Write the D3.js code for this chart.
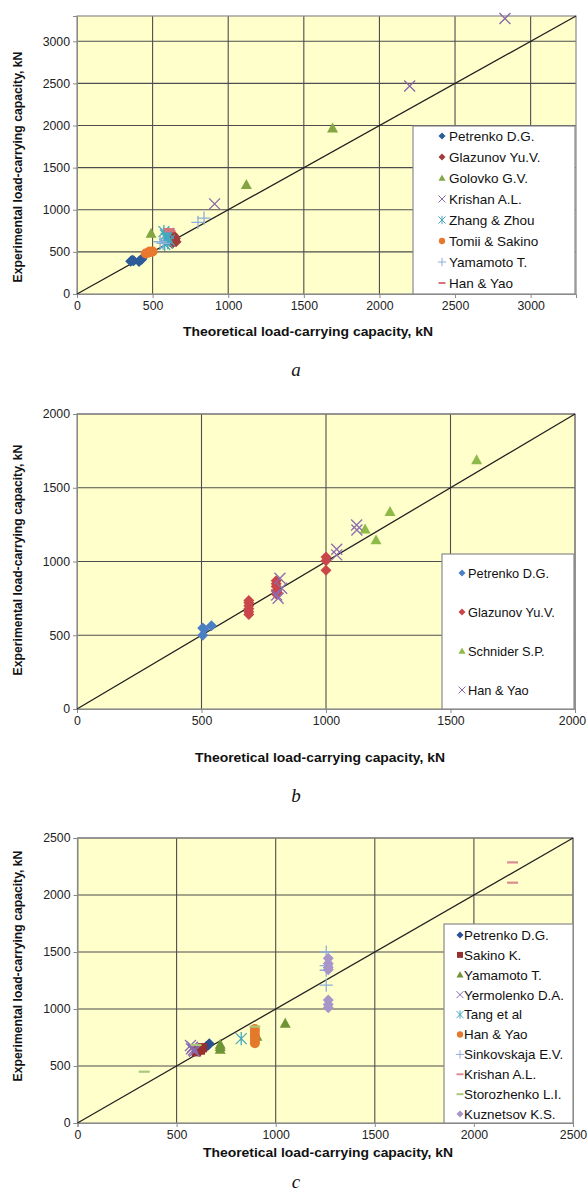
<!DOCTYPE html>
<html>
<head>
<meta charset="utf-8">
<script src="https://cdn.jsdelivr.net/npm/d3@7"></script>
<style>
body{margin:0;background:#fff}
svg{display:block;font-family:"Liberation Sans",Arial,sans-serif}
</style>
</head>
<body>
<svg id="chart" width="587" height="1191"></svg>
<script>
// ---- panel a : [theoretical, experimental] kN
var aPetrenko = [[355,390],[375,395],[410,385],[420,405],[430,415],[365,400]]
var aGlazunov = [[630,600],[645,630],[650,660],[640,690],[630,710],[655,620],[645,650]]
var aGolovko = [[490,720],[1120,1300],[1690,1970]]
var aKrishan = [[910,1070],[2200,2470],[2830,3270]]
var aZhang = [[575,740],[585,700],[590,660],[600,610],[580,590],[605,720],[595,680],[610,640]]
var aTomii = [[455,480],[470,490],[490,500],[480,505],[500,505]]
var aYamamoto = [[550,620],[800,850],[840,900],[570,600]]
var aHanYao = [[610,770],[615,745]]

// ---- panel b
var bPetrenko = [[505,550],[505,500],[540,565],[510,540]]
var bGlazunov = [[690,640],[690,660],[690,680],[690,700],[690,720],[690,735],
                 [800,780],[800,800],[800,830],[800,850],[800,870],[805,790],
                 [1000,1030],[1000,1005],[1000,940]]
var bSchnider = [[1157,1220],[1201,1146],[1257,1339],[1605,1690]]
var bHanYao = [[1123,1248],[1124,1214],[1043,1083],[1043,1045],[815,887],[822,819],[808,751],[802,773]]

// ---- panel c
var cPetrenko = [[660,685],[650,670],[665,695]]
var cSakino = [[600,625],[610,650],[620,640],[630,660],[605,640]]
var cYamamoto = [[720,645],[720,670],[720,690],[1048,875],[905,760]]
var cYermolenko = [[570,680],[575,650],[585,640],[580,665],[590,630]]
var cTang = [[826,740]]
var cHanYao = [[895,700],[895,720],[895,745],[895,770],[895,800],[895,825]]
var cSinkovskaja = [[1255,1500],[1255,1380],[1255,1340],[1255,1210]]
var cKrishan = [[2195,2286],[2195,2108]]
var cStorozhenko = [[337,450],[895,845],[598,684]]
var cKuznetsov = [[1265,1445],[1265,1400],[1265,1365],[1265,1345],[1265,1080],[1265,1040],[1265,1010]]

var ticksA = [0,500,1000,1500,2000,2500,3000]
var ticksB = [0,500,1000,1500,2000]
var ticksC = [0,500,1000,1500,2000,2500]

var xTitle = 'Theoretical load-carrying capacity, kN'
var yTitle = 'Experimental load-carrying capacity, kN'

var panels = [
  {box: [77, 576, 16, 294], max: 3300, ticks: ticksA, cap: 'a', capY: 376, titleX: 308, titleY: 336, yTitleY: 167,
   legend: {x0: 413, x1: 575, y0: 126, first: 136, step: 21, mx: 442, tx: 449, fs: 13.5},
   series: [
     {name: 'Petrenko D.G.', data: aPetrenko, shape: 'diamond', color: '#2d5a98'},
     {name: 'Glazunov Yu.V.', data: aGlazunov, shape: 'diamond', color: '#a33b3b'},
     {name: 'Golovko G.V.', data: aGolovko, shape: 'triangle', color: '#83a543'},
     {name: 'Krishan A.L.', data: aKrishan, shape: 'x', color: '#8667a8'},
     {name: 'Zhang & Zhou', data: aZhang, shape: 'asterisk', color: '#45a8c0'},
     {name: 'Tomii & Sakino', data: aTomii, shape: 'circle', color: '#e9782f'},
     {name: 'Yamamoto T.', data: aYamamoto, shape: 'plus', color: '#8eaedc'},
     {name: 'Han & Yao', data: aHanYao, shape: 'dash', color: '#d9737a'}
   ]},
  {box: [77, 575, 414, 709], max: 2000, ticks: ticksB, cap: 'b', capY: 802, titleX: 320, titleY: 762, yTitleY: 560,
   legend: {x0: 442, x1: 574, y0: 554, first: 573, step: 39, mx: 462, tx: 468, fs: 12.8},
   series: [
     {name: 'Petrenko D.G.', data: bPetrenko, shape: 'diamond', color: '#4a7fc4'},
     {name: 'Glazunov Yu.V.', data: bGlazunov, shape: 'diamond', color: '#c9464a'},
     {name: 'Schnider S.P.', data: bSchnider, shape: 'triangle', color: '#8fba4a'},
     {name: 'Han & Yao', data: bHanYao, shape: 'x', color: '#8d6cb0'}
   ]},
  {box: [77.5, 573, 838, 1123], max: 2500, ticks: ticksC, cap: 'c', capY: 1188, titleX: 328, titleY: 1157, yTitleY: 966,
   legend: {x0: 444, x1: 573, y0: 924, first: 935, step: 19.9, mx: 460, tx: 464, fs: 13.4},
   series: [
     {name: 'Petrenko D.G.', data: cPetrenko, shape: 'diamond', color: '#2a4f93'},
     {name: 'Sakino K.', data: cSakino, shape: 'square', color: '#96302e'},
     {name: 'Yamamoto T.', data: cYamamoto, shape: 'triangle', color: '#6f9436'},
     {name: 'Yermolenko D.A.', data: cYermolenko, shape: 'x', color: '#8a6bb0'},
     {name: 'Tang et al', data: cTang, shape: 'asterisk', color: '#45a8c0'},
     {name: 'Han & Yao', data: cHanYao, shape: 'circle', color: '#e5792b'},
     {name: 'Sinkovskaja E.V.', data: cSinkovskaja, shape: 'plus', color: '#8eaedc'},
     {name: 'Krishan A.L.', data: cKrishan, shape: 'dash', color: '#d98d8f'},
     {name: 'Storozhenko L.I.', data: cStorozhenko, shape: 'dash', color: '#a9c97a'},
     {name: 'Kuznetsov K.S.', data: cKuznetsov, shape: 'diamond', color: '#a895c9'}
   ]}
]

var stroked = {x: 1, asterisk: 1, plus: 1, dash: 1}

function markerPath(shape, r){
  var p = d3.path()
  if (shape == 'diamond'){ p.moveTo(0,-r); p.lineTo(r,0); p.lineTo(0,r); p.lineTo(-r,0); p.closePath() }
  else if (shape == 'square'){ p.rect(-r*0.85,-r*0.85,r*1.7,r*1.7) }
  else if (shape == 'triangle'){ p.moveTo(0,-r); p.lineTo(r,r*0.8); p.lineTo(-r,r*0.8); p.closePath() }
  else if (shape == 'circle'){ p.arc(0,0,r*0.9,0,2*Math.PI) }
  else if (shape == 'x'){ p.moveTo(-r,-r); p.lineTo(r,r); p.moveTo(-r,r); p.lineTo(r,-r) }
  else if (shape == 'asterisk'){ p.moveTo(-r,-r); p.lineTo(r,r); p.moveTo(-r,r); p.lineTo(r,-r); p.moveTo(0,-r*1.2); p.lineTo(0,r*1.2) }
  else if (shape == 'plus'){ p.moveTo(-r*1.2,0); p.lineTo(r*1.2,0); p.moveTo(0,-r*1.2); p.lineTo(0,r*1.2) }
  else if (shape == 'dash'){ p.moveTo(-r,0); p.lineTo(r,0) }
  return p.toString()
}

function styleMarker(sel, s){
  sel.attr('fill', stroked[s.shape] ? 'none' : s.color)
    .attr('stroke', stroked[s.shape] ? s.color : 'none')
    .attr('stroke-width', s.shape == 'dash' ? 2.2 : 1.3)
}

var svg = d3.select('#chart')

panels.forEach(drawPanel)

function drawPanel(p){
  var [l, r, t, b] = p.box
  var x = d3.scaleLinear().domain([0, p.max]).range([l, r])
  var y = d3.scaleLinear().domain([0, p.max]).range([b, t])
  var g = svg.append('g')

  g.append('rect').attr('x', l).attr('y', t).attr('width', r - l).attr('height', b - t)
    .attr('fill', '#ffffcc')

  // grid
  g.selectAll('line.gx').data(p.ticks.filter(d => d > 0)).enter().append('line')
    .attr('x1', d => x(d)).attr('x2', d => x(d)).attr('y1', t).attr('y2', b)
    .attr('stroke', '#4d4d4d').attr('stroke-width', 1.1)
  g.selectAll('line.gy').data(p.ticks.filter(d => d > 0)).enter().append('line')
    .attr('y1', d => y(d)).attr('y2', d => y(d)).attr('x1', l).attr('x2', r)
    .attr('stroke', '#4d4d4d').attr('stroke-width', 1.1)

  g.append('rect').attr('x', l).attr('y', t).attr('width', r - l).attr('height', b - t)
    .attr('fill', 'none').attr('stroke', '#8a8a8a').attr('stroke-width', 1.2)

  // axes
  var xAxis = d3.axisBottom(x).tickValues(p.ticks).tickSize(4).tickPadding(3).tickFormat(d3.format('d'))
  var yAxis = d3.axisLeft(y).tickValues(p.ticks).tickSize(4).tickPadding(3).tickFormat(d3.format('d'))
  var xg = g.append('g').attr('transform', 'translate(0,' + b + ')').call(xAxis)
  g.append('g').attr('transform', 'translate(' + l + ',0)').call(yAxis)
  g.selectAll('.domain').attr('stroke', '#8a8a8a')
  g.selectAll('.tick line').attr('stroke', '#8a8a8a')
  g.selectAll('.tick text').attr('font-size', 12.3).attr('fill', '#222')
    .attr('font-family', '"Liberation Sans",Arial,sans-serif')
  // keep a label at the right page edge inside the page
  xg.selectAll('.tick text').filter(d => x(d) + 14 > 587).attr('dx', -3)

  // 1:1 line
  g.append('line').attr('x1', x(0)).attr('y1', y(0)).attr('x2', x(p.max)).attr('y2', y(p.max))
    .attr('stroke', '#222').attr('stroke-width', 1.3)

  // points
  p.series.forEach(s => {
    g.append('g').selectAll('path').data(s.data).enter().append('path')
      .attr('transform', d => 'translate(' + x(d[0]) + ',' + y(d[1]) + ')')
      .attr('d', markerPath(s.shape, 5.5))
      .call(styleMarker, s)
  })

  // legend
  var L = p.legend
  g.append('rect').attr('x', L.x0).attr('y', L.y0).attr('width', L.x1 - L.x0).attr('height', b - L.y0)
    .attr('fill', '#fff').attr('stroke', '#8a8a8a').attr('stroke-width', 1.2)
  var items = g.append('g').selectAll('g').data(p.series).enter().append('g')
    .attr('transform', (d, i) => 'translate(0,' + (L.first + i * L.step) + ')')
  items.append('path').attr('transform', 'translate(' + L.mx + ',0)')
    .attr('d', d => markerPath(d.shape, 3.5))
    .each(function(d){ d3.select(this).call(styleMarker, d) })
    .attr('stroke-width', d => d.shape == 'dash' ? 2 : 1)
  items.append('text').attr('x', L.tx).attr('dy', '0.36em')
    .attr('font-size', L.fs).attr('fill', '#111').text(d => d.name)

  // titles
  g.append('text').attr('x', p.titleX).attr('y', p.titleY).attr('text-anchor', 'middle')
    .attr('font-size', 12.6).attr('font-weight', 'bold').attr('fill', '#111')
    .attr('textLength', 250).attr('lengthAdjust', 'spacingAndGlyphs').text(xTitle)
  g.append('text').attr('transform', 'translate(22,' + p.yTitleY + ') rotate(-90)')
    .attr('text-anchor', 'middle')
    .attr('font-size', 12.2).attr('font-weight', 'bold').attr('fill', '#111').text(yTitle)
  g.append('text').attr('x', 296).attr('y', p.capY).attr('text-anchor', 'middle')
    .attr('font-family', '"Liberation Serif","Times New Roman",serif').attr('font-style', 'italic')
    .attr('font-size', 19).attr('fill', '#111').text(p.cap)
}
</script>
</body>
</html>
